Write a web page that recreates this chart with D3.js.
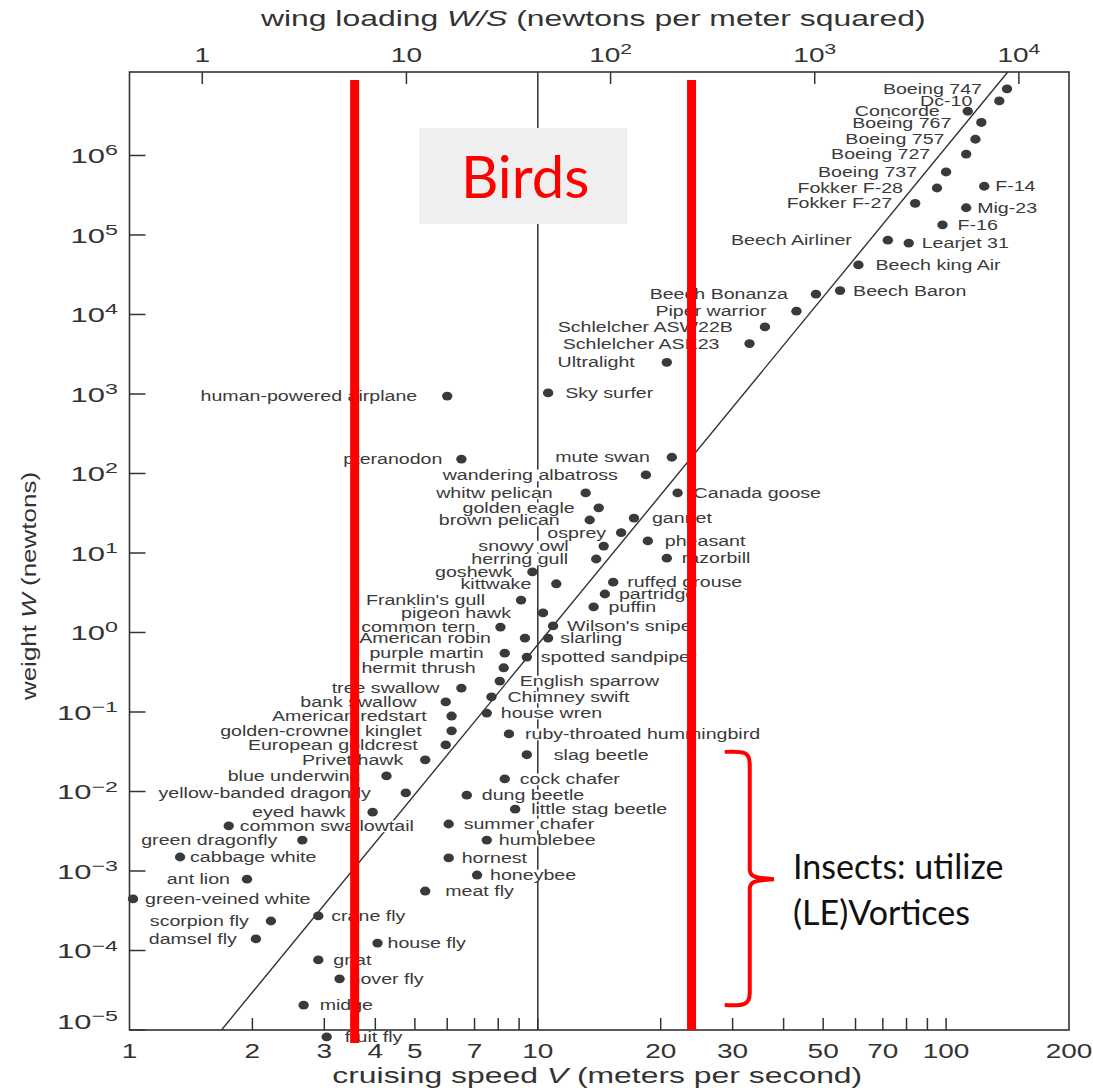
<!DOCTYPE html>
<html><head><meta charset="utf-8">
<script src="https://cdn.jsdelivr.net/npm/d3@7"></script>
<style>body{margin:0;background:#fff}svg{display:block}</style>
</head><body>
<svg id="c" width="1093" height="1088"></svg>
<script>
// ---------- DATA ----------
const names = ["Boeing 747","Dc-10","Concorde","Boeing 767","Boeing 757","Boeing 727","Boeing 737","Fokker F-28","F-14","Fokker F-27",
"Mig-23","F-16","Beech Airliner","Learjet 31","Beech king Air","Beech Bonanza","Beech Baron","Piper warrior","Schlelcher ASW22B","Schlelcher ASK23",
"Ultralight","Sky surfer","human-powered airplane","pteranodon","mute swan","wandering albatross","whitw pelican","Canada goose","golden eagle","brown pelican",
"gannet","osprey","pheasant","snowy owl","herring gull","razorbill","goshewk","kittwake","ruffed grouse","partridge",
"Franklin's gull","puffin","pigeon hawk","common tern","Wilson's snipe","American robin","slarling","purple martin","spotted sandpiper","hermit thrush",
"English sparrow","tree swallow","Chimney swift","bank swallow","house wren","American redstart","golden-crowned kinglet","ruby-throated hummingbird","European goldcrest","slag beetle",
"Privet hawk","blue underwing","cock chafer","yellow-banded dragonfly","dung beetle","little stag beetle","eyed hawk","common swallowtail","summer chafer","green dragonfly",
"humblebee","cabbage white","hornest","ant lion","honeybee","meat fly","green-veined white","crane fly","scorpion fly","damsel fly",
"house fly","gnat","hover fly","midge","fruit fly"];
// cruising speed V (m/s)
const speeds = [141,135,113,122,118,112,100,95,124,84,
112,98,72,81,61,48,55,43,36,33,
20.7,10.6,6.0,6.5,21.3,18.4,13.1,22,14.1,13.4,
17.2,16,18.6,14.5,13.9,20.7,9.7,11.1,15.3,14.6,
9.1,13.7,10.3,8.1,10.9,9.3,10.6,8.3,9.4,8.25,
8.07,6.5,7.7,5.95,7.5,6.15,6.15,8.5,5.95,9.4,
5.3,4.26,8.3,4.75,6.7,8.8,3.94,1.75,6.05,2.65,
7.5,1.33,6.05,1.94,7.1,5.3,1.02,2.9,2.22,2.04,
4.05,2.9,3.27,2.67,3.04];
// weight W (newtons)
const weights = [6.9e6,4.85e6,3.6e6,2.6e6,1.6e6,1.04e6,6.2e5,3.9e5,4.1e5,2.5e5,
2.2e5,1.34e5,8.6e4,7.9e4,4.2e4,1.8e4,2.0e4,1.1e4,7000,4300,
2500,1030,940,152,160,96,57,57,37,26,
27.5,18,14.2,12.2,8.4,8.6,5.8,4.1,4.3,3.05,
2.56,2.1,1.76,1.17,1.21,0.85,0.85,0.55,0.49,0.36,
0.245,0.2,0.155,0.134,0.097,0.089,0.058,0.053,0.0385,0.029,
0.025,0.0157,0.0144,0.0096,0.009,0.006,0.0055,0.0037,0.0039,0.00245,
0.00245,0.0015,0.00146,0.00079,0.00089,0.00056,0.000445,0.000272,0.000235,0.00014,
0.000124,7.6e-5,4.4e-5,2.06e-5,8.2e-6];
// label placement: signed gap in px (negative = label on the left)
const labelGap = [-25,-27,-28,-30,-31,-36,-29,-34,11,-23,
11,15,-36,13,17,-28,13,-30,-32,-30,
-32,17,-30,-19,-22,-28,-33,16,-24,-30,
18,-15,17,-35,-28,15,-20,-25,14,14,
-36,15,-32,-25,14,-34,12,-21,14,-28,
20,-22,16,-29,14,-25,-30,16,-28,27,
-22,-26,15,-35,15,16,-27,11,15,-25,
12,10,13,-17,13,20,12,13,-22,-19,
10,15,10,16,18];

const xTickValues = [1,2,3,4,5,7,10,20,30,50,70,100,200];
const xMinorTicks = [2,3,4,5,6,7,8,9,10,20,30,40,50,60,70,80,90,100];
const yTickExponents = [-5,-4,-3,-2,-1,0,1,2,3,4,5,6];
const topTickExponents = [0,1,2,3,4];
const wingLoadingCoef = 0.44;          // W/S = k V^2
const trendV = [1.68, 141.6];
const trendW = [1e-5, 1.12e7];
const refSpeed = 10;                   // vertical reference line
const birdSpeeds = [3.56, 23.8];       // red bounds
const braceV = [28.7, 37.9];
const braceW = [0.0315, 2.06e-5];
const braceMidW = 7.9e-4;

// ---------- SCALES ----------
const svg = d3.select("#c");
const X = d3.scaleLog().domain([1,200]).range([129.5,1069]);
const Y = d3.scaleLog().domain([1e-5, Math.pow(10,7.05)]).range([1030,72]);
const XT = d3.scaleLog().domain([wingLoadingCoef, wingLoadingCoef*40000]).range(X.range());
const x0 = X.range()[0], x1 = X.range()[1], yB = Y.range()[0], yT = Y.range()[1];
const ink = "#333";
const FONT = "'Liberation Sans', Arial, Helvetica, sans-serif";

svg.append("rect").attr("width",1093).attr("height",1088).attr("fill","#fff");

// frame
svg.append("rect").attr("x",x0).attr("y",yT).attr("width",x1-x0).attr("height",yB-yT)
  .attr("fill","none").attr("stroke",ink).attr("stroke-width",1.6);

// ticks
const tk = svg.append("g").attr("stroke",ink).attr("stroke-width",1.5);
yTickExponents.forEach(e=>{ const y=Y(Math.pow(10,e)); tk.append("line").attr("x1",x0).attr("x2",x0+16).attr("y1",y).attr("y2",y); });
xMinorTicks.forEach(v=>{ const x=X(v); tk.append("line").attr("x1",x).attr("x2",x).attr("y1",yB).attr("y2",yB-12); });
topTickExponents.forEach(e=>{ const x=XT(Math.pow(10,e)); tk.append("line").attr("x1",x).attr("x2",x).attr("y1",yT).attr("y2",yT+12); });

// tick labels
function scaledText(parent,x,y,sx){ return parent.append("g").attr("transform",`translate(${x},${y}) scale(${sx},1)`).append("text"); }
const tl = svg.append("g").attr("font-family",FONT).attr("fill",ink).attr("font-size",20);
yTickExponents.forEach(e=>{
  const y = Y(Math.pow(10,e)) + (e===-5 ? -1 : 8);
  const t = scaledText(tl,118,y,1.55).attr("text-anchor","end");
  t.append("tspan").text("10");
  t.append("tspan").attr("dy",-8).attr("font-size",15).text(e<0?"\u2212"+(-e):String(e));
});
xTickValues.forEach(v=>{
  scaledText(tl,X(v),1058,1.4).attr("text-anchor","middle").text(v);
});
topTickExponents.forEach(e=>{
  const t = scaledText(tl,XT(Math.pow(10,e)),62,1.4).attr("text-anchor","middle");
  if(e===0) t.text("1"); else if(e===1) t.text("10");
  else { t.append("tspan").text("10"); t.append("tspan").attr("dy",-8).attr("font-size",15).text(e); }
});

// axis titles
const at = svg.append("g").attr("font-family",FONT).attr("fill",ink).attr("font-size",22);
{ const t = scaledText(at,(x0+x1)/2-6,26,1.45).attr("text-anchor","middle");
  t.append("tspan").text("wing loading ");
  t.append("tspan").attr("font-style","italic").text("W/S");
  t.append("tspan").text(" (newtons per meter squared)"); }
{ const t = scaledText(at,(x0+x1)/2-2,1083,1.45).attr("text-anchor","middle");
  t.append("tspan").text("cruising speed ");
  t.append("tspan").attr("font-style","italic").text("V");
  t.append("tspan").text(" (meters per second)"); }
{ const g = at.append("g").attr("transform",`translate(36,${(yB+yT)/2+35}) rotate(-90) scale(1.3,1)`);
  const t = g.append("text").attr("text-anchor","middle").attr("font-size",20);
  t.append("tspan").text("weight ");
  t.append("tspan").attr("font-style","italic").text("W");
  t.append("tspan").text(" (newtons)"); }

// reference vertical line and trend line
svg.append("line").attr("x1",X(refSpeed)).attr("x2",X(refSpeed)).attr("y1",yT).attr("y2",yB)
  .attr("stroke",ink).attr("stroke-width",1.5);
svg.append("path").datum(trendV.map((v,i)=>[v,trendW[i]]))
  .attr("d",d3.line().x(d=>X(d[0])).y(d=>Y(d[1])))
  .attr("stroke",ink).attr("stroke-width",1.4).attr("fill","none");

// labels with knockout background
const bgG = svg.append("g");
const lbG = svg.append("g").attr("font-family",FONT).attr("font-size",14).attr("fill","#3a3a3a");
names.forEach((n,i)=>{
  const gx = X(speeds[i]) + labelGap[i], gy = Y(weights[i]);
  const g = lbG.append("g").attr("transform",`translate(${gx},${gy}) scale(1.4,1)`);
  const t = g.append("text").attr("text-anchor",labelGap[i]<0?"end":"start").attr("dy","0.36em").text(n);
  const bb = t.node().getBBox();
  bgG.append("rect").attr("transform",`translate(${gx},${gy}) scale(1.4,1)`)
    .attr("x",bb.x-1).attr("y",bb.y+2).attr("width",bb.width+2).attr("height",bb.height-4).attr("fill","#fff");
});

// dots
svg.append("g").selectAll("ellipse").data(names).join("ellipse")
  .attr("cx",(d,i)=>X(speeds[i])).attr("cy",(d,i)=>Y(weights[i]))
  .attr("rx",5.2).attr("ry",4.4).attr("fill","#3a3a3a");

// ---------- ANNOTATIONS ----------
const red = "#ff0000";
svg.append("line").attr("x1",X(birdSpeeds[0])).attr("x2",X(birdSpeeds[0])).attr("y1",yT+8).attr("y2",yB+13)
  .attr("stroke",red).attr("stroke-width",9);
svg.append("line").attr("x1",X(birdSpeeds[1])).attr("x2",X(birdSpeeds[1])).attr("y1",yT+8).attr("y2",yB)
  .attr("stroke",red).attr("stroke-width",9);

// Birds box
{ const cx = (X(birdSpeeds[0])+X(birdSpeeds[1]))/2;
  svg.append("rect").attr("x",cx-104).attr("y",128).attr("width",208).attr("height",96).attr("fill","#efefef");
  svg.append("text").attr("x",cx+2).attr("y",198).attr("text-anchor","middle")
    .attr("font-family","Lato, 'Open Sans', sans-serif").attr("font-size",58).attr("fill",red).text("Birds"); }

// curly brace
{ const bx0 = X(braceV[0]), bx1 = X(braceV[1]), yt = Y(braceW[0]), yb = Y(braceW[1]), ym = Y(braceMidW);
  const sp = bx0 + 25;
  const p = d3.path();
  p.moveTo(bx0, yt);
  p.bezierCurveTo(sp-6, yt-1, sp, yt, sp, yt+12);
  p.lineTo(sp, ym-10);
  p.bezierCurveTo(sp, ym-3, sp+4, ym-1, bx1, ym);
  p.moveTo(bx1, ym);
  p.bezierCurveTo(sp+4, ym+1, sp, ym+3, sp, ym+10);
  p.lineTo(sp, yb-12);
  p.bezierCurveTo(sp, yb, sp-6, yb+1, bx0, yb);
  svg.append("path").attr("d",p.toString()).attr("fill","none").attr("stroke",red).attr("stroke-width",4);
  const tg = svg.append("g").attr("font-family","Lato, 'Open Sans', sans-serif").attr("font-size",34).attr("fill","#111");
  tg.append("text").attr("x",bx1+19).attr("y",ym).text("Insects: utilize");
  tg.append("text").attr("x",bx1+19).attr("y",ym+46).text("(LE)Vortices");
}
</script>
</body></html>
